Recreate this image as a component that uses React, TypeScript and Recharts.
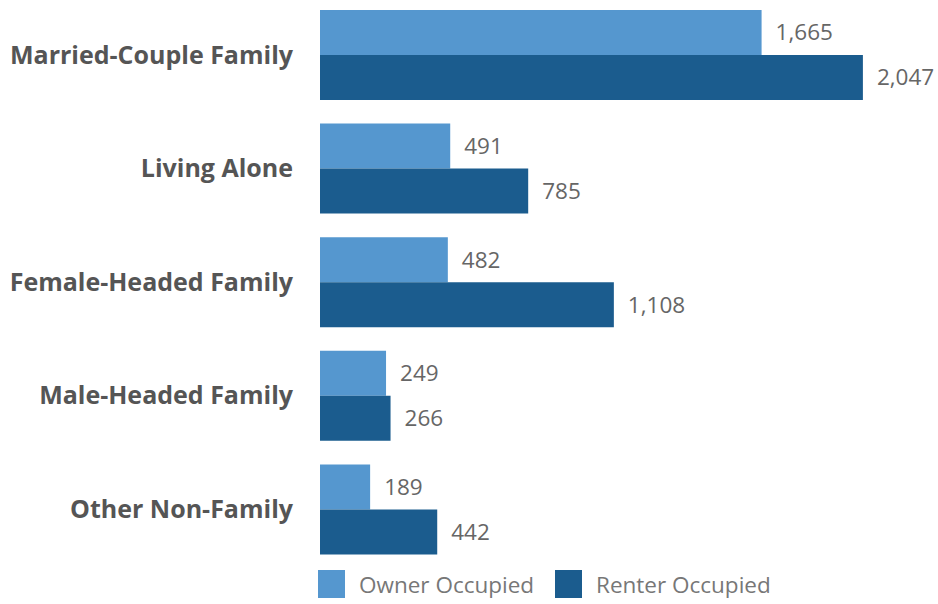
import { BarChart, Bar, XAxis, YAxis, LabelList, Legend } from 'recharts';

const categories = [
  'Married-Couple Family',
  'Living Alone',
  'Female-Headed Family',
  'Male-Headed Family',
  'Other Non-Family',
];
const ownerOccupied = [1665, 491, 482, 249, 189];
const renterOccupied = [2047, 785, 1108, 266, 442];

const OWNER = '#5597cf';
const RENTER = '#1b5c8e';
const FONT = '"Open Sans", "Noto Sans", sans-serif';

const data = categories.map((name, i) => ({
  name,
  owner: ownerOccupied[i],
  renter: renterOccupied[i],
}));

const fmt = (v: any) => Number(v).toLocaleString('en-US');

function LegendBox() {
  const item = (color: string, text: string, width: number) => (
    <div style={{ display: 'flex', alignItems: 'center', width }}>
      <div style={{ width: 27, height: 28, background: color, marginRight: 14 }} />
      <span style={{ fontFamily: FONT, fontSize: 22.5, color: '#777' }}>{text}</span>
    </div>
  );
  return (
    <div style={{ display: 'flex', height: 32, paddingLeft: 318, boxSizing: 'border-box', paddingTop: 4 }}>
      {item(OWNER, 'Owner Occupied', 237)}
      {item(RENTER, 'Renter Occupied', 240)}
    </div>
  );
}

export default function App() {
  return (
    <div style={{ position: 'absolute', left: 0, top: 0, width: 938, height: 604, background: '#fff' }}>
      <BarChart
        width={938}
        height={604}
        data={data}
        layout="vertical"
        barGap={0}
        margin={{ top: -2, right: 8, left: 0, bottom: 6 }}
      >
        <XAxis type="number" domain={[0, 2300]} hide />
        <YAxis
          type="category"
          dataKey="name"
          width={320}
          tickLine={false}
          axisLine={false}
          tickSize={0}
          tickMargin={27}
          tick={{ fill: '#555', fontSize: 25, fontWeight: 700, fontFamily: FONT }}
        />
        <Legend
          verticalAlign="bottom"
          align="left"
          height={32}
          content={() => <LegendBox />}
          wrapperStyle={{ left: 0, width: 938 }}
        />
        <Bar dataKey="owner" fill={OWNER} barSize={45} isAnimationActive={false}>
          <LabelList
            dataKey="owner"
            position="right"
            offset={14}
            formatter={fmt}
            style={{ fill: '#666', fontSize: 22.5, fontFamily: FONT }}
          />
        </Bar>
        <Bar dataKey="renter" fill={RENTER} barSize={45} isAnimationActive={false}>
          <LabelList
            dataKey="renter"
            position="right"
            offset={14}
            formatter={fmt}
            style={{ fill: '#666', fontSize: 22.5, fontFamily: FONT }}
          />
        </Bar>
      </BarChart>
    </div>
  );
}
